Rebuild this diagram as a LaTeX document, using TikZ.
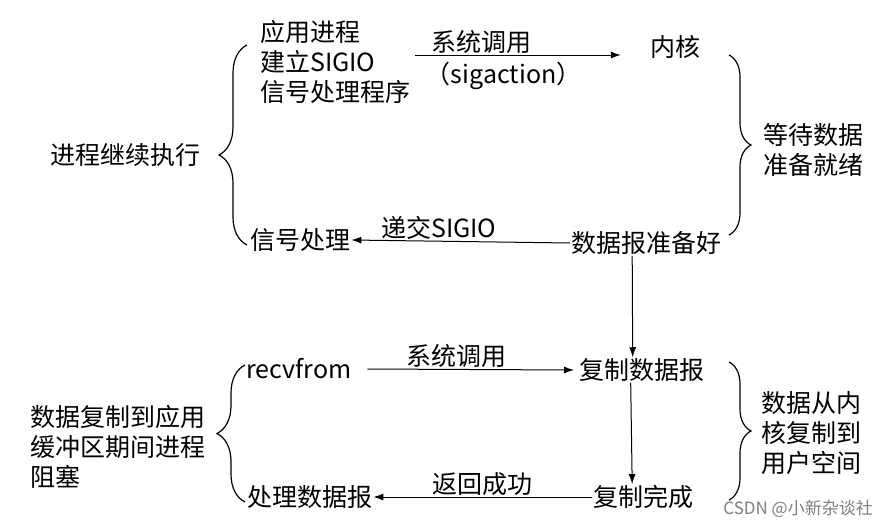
\documentclass[tikz,border=0pt]{standalone}
\usepackage{fontspec}
\setmainfont{Noto Sans CJK SC}
\usetikzlibrary{arrows.meta,decorations.pathreplacing}

\begin{document}
\begin{tikzpicture}[x=1pt, y=-1pt, font=\fontsize{25}{30}\selectfont,
  every node/.style={align=left, inner sep=1pt},
  flow/.style={-{Latex[length=10pt,width=7pt]}, line width=1pt},
  bracket/.style={decorate, decoration={brace, amplitude=#1}, line width=1.2pt}]
  \path[fill=white,use as bounding box] (0,0) rectangle (887,528);

  % signal-driven phase
  \node[anchor=west] (setup) at (259,62) {应用进程\\建立SIGIO\\信号处理程序};
  \node (kernel) at (675,47) {内核};
  \node[anchor=east] (goon) at (202,155) {进程继续执行};
  \node[anchor=west] (waitdata) at (762,150) {等待数据\\准备就绪};
  \node[anchor=west] (sighandle) at (249,240) {信号处理};
  \node[anchor=west] (dgready) at (570,243) {数据报准备好};

  \draw[flow] ([xshift=4pt,yshift=7pt]setup.east) -- ([xshift=-28pt,yshift=-8pt]kernel.west)
    node[above, pos=.32] {系统调用} node[below=6pt, pos=.43] {（sigaction）};
  \draw[flow] (dgready.west) -- (sighandle.east) node[above, pos=.6] {递交SIGIO};
  \coordinate (lt1) at (247,245); \coordinate (lt2) at (247,45);
  \draw[bracket=28pt, decoration={aspect=.45}] (lt1) -- (lt2);
  \coordinate (rt1) at (729,55); \coordinate (rt2) at (729,235);
  \draw[bracket=22pt] (rt1) -- (rt2);

  % copy phase
  \node[anchor=west] (recv) at (245,369) {recvfrom};
  \node[anchor=west] (copydg) at (578,370) {复制数据报};
  \node[anchor=west] (copydone) at (592,497) {复制完成};
  \node[anchor=west] (procdg) at (246,497) {处理数据报};
  \node[anchor=east] (blocked) at (207,447) {数据复制到应用\\缓冲区期间进程\\阻塞};
  \node[anchor=west] (tocopy) at (760,433) {数据从内\\核复制到\\用户空间};

  \draw[flow] ([xshift=-14pt]dgready.south) -- ([xshift=-9pt]copydg.north);
  \draw[flow] ([xshift=15pt]recv.east) -- ([xshift=-4pt]copydg.west)
    node[above, pos=.43] {系统调用};
  \draw[flow] ([xshift=-11pt]copydg.south) -- ([xshift=-11pt]copydone.north);
  \draw[flow] (copydone.west) -- (procdg.east) node[above, pos=.5] {返回成功};
  \coordinate (lb1) at (245,502); \coordinate (lb2) at (245,365);
  \draw[bracket=28pt] (lb1) -- (lb2);
  \coordinate (rb1) at (729,362); \coordinate (rb2) at (729,500);
  \draw[bracket=22pt] (rb1) -- (rb2);

  \node[anchor=east, gray, font=\fontsize{17}{20}\selectfont] (mark) at (874,509) {CSDN @小新杂谈社};
\end{tikzpicture}
\end{document}
